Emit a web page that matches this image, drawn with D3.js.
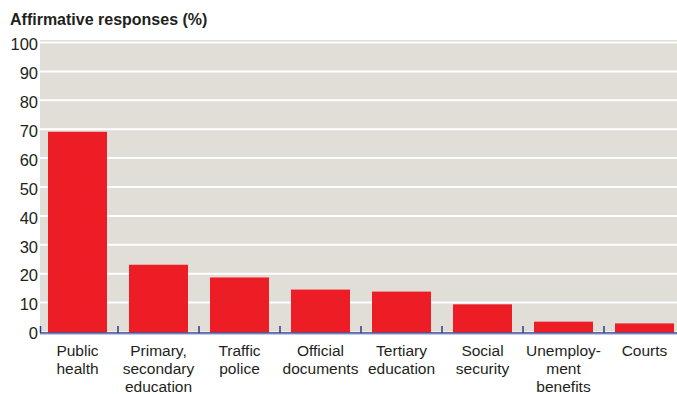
<!DOCTYPE html>
<html>
<head>
<meta charset="utf-8">
<script src="https://cdn.jsdelivr.net/npm/d3@7/dist/d3.min.js"></script>
<style>
  html, body { margin: 0; padding: 0; background: #ffffff; }
  svg { display: block; }
  text { font-family: "Liberation Sans", Arial, sans-serif; fill: #231f20; }
</style>
</head>
<body>
<svg id="chart" width="677" height="394"></svg>
<script>
// Survey results: share of affirmative responses by public service
const categories = [
  ["Public", "health"],
  ["Primary,", "secondary", "education"],
  ["Traffic", "police"],
  ["Official", "documents"],
  ["Tertiary", "education"],
  ["Social", "security"],
  ["Unemploy-", "ment", "benefits"],
  ["Courts"]
];
const values = [69.1, 23.1, 18.7, 14.5, 13.8, 9.4, 3.4, 2.8];
const yTicks = [0, 10, 20, 30, 40, 50, 60, 70, 80, 90, 100];
const title = "Affirmative responses (%)";

const svg = d3.select("#chart");
const plotLeft = 40, plotRight = 677, plotTop = 40;

const y = d3.scaleLinear().domain([0, 100]).range([331.5, 42.5]);
const idx = categories.map((d, i) => i);
const x = d3.scaleBand().domain(idx).range([37, 37 + 81 * 8])
  .paddingInner(22 / 81).paddingOuter(11 / 81);

// background panel
svg.append("rect")
  .attr("x", plotLeft).attr("y", plotTop)
  .attr("width", plotRight - plotLeft).attr("height", y(0) - plotTop)
  .attr("fill", "#e1ddd7");

// horizontal gridlines
svg.append("g").selectAll("line")
  .data(yTicks.filter(t => t > 0))
  .join("line")
  .attr("x1", plotLeft).attr("x2", plotRight)
  .attr("y1", d => y(d)).attr("y2", d => y(d))
  .attr("stroke", "#ffffff").attr("stroke-width", 2);

// y axis labels
const yAxis = d3.axisLeft(y).tickValues(yTicks).tickSize(0).tickPadding(0);
const yg = svg.append("g").attr("transform", "translate(38,2)").call(yAxis);
yg.select(".domain").remove();
yg.selectAll("text")
  .attr("font-size", 16.5)
  .attr("font-family", "Liberation Sans, Arial, sans-serif")
  .attr("fill", "#231f20");

// bars
svg.append("g").selectAll("rect")
  .data(values)
  .join("rect")
  .attr("x", (d, i) => x(i))
  .attr("width", x.bandwidth())
  .attr("y", d => y(d))
  .attr("height", d => y(0) - y(d) + 1)
  .attr("fill", "#ed1d26");

// x axis baseline
svg.append("line")
  .attr("x1", plotLeft).attr("x2", plotRight)
  .attr("y1", y(0) + 1.5).attr("y2", y(0) + 1.5)
  .attr("stroke", "#2e3b8c").attr("stroke-width", 1.5);
svg.append("line")
  .attr("x1", plotLeft).attr("x2", plotRight)
  .attr("y1", y(0) + 2.7).attr("y2", y(0) + 2.7)
  .attr("stroke", "#a7b3dc").attr("stroke-width", 1);

// category separator ticks
svg.append("g").selectAll("line")
  .data(idx)
  .join("line")
  .attr("x1", i => Math.max(plotLeft + 0.5, x(i) - x.step() * x.paddingInner() / 2))
  .attr("x2", i => Math.max(plotLeft + 0.5, x(i) - x.step() * x.paddingInner() / 2))
  .attr("y1", y(0) - 5.5).attr("y2", y(0) + 1.5)
  .attr("stroke", "#2e3b8c").attr("stroke-width", 1.5);

// category labels
const lbl = svg.append("g").selectAll("text")
  .data(categories)
  .join("text")
  .attr("text-anchor", "middle")
  .attr("font-size", 15.5)
  .attr("transform", (d, i) => `translate(${x(i) + x.bandwidth() / 2},356)`);
lbl.selectAll("tspan")
  .data(d => d)
  .join("tspan")
  .attr("x", 0)
  .attr("y", (d, j) => j * 18)
  .text(d => d);

// title
svg.append("text")
  .attr("x", 10).attr("y", 25)
  .attr("font-size", 16)
  .attr("font-weight", "bold")
  .text(title);
</script>
</body>
</html>
